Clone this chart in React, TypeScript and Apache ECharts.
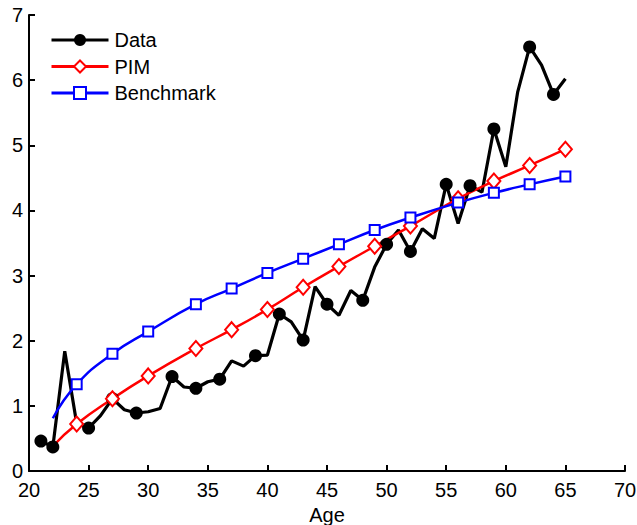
import React, { useEffect, useRef } from "react";
import * as echarts from "echarts";

const dataAges = [21,22,23,24,25,26,27,28,29,30,31,32,33,34,35,36,37,38,39,40,41,42,43,44,45,46,47,48,49,50,51,52,53,54,55,56,57,58,59,60,61,62,63,64,65];
const dataValues = [0.46,0.37,1.84,0.73,0.66,0.85,1.11,0.94,0.89,0.91,0.96,1.45,1.29,1.27,1.37,1.41,1.69,1.61,1.77,1.78,2.41,2.29,2.01,2.83,2.56,2.39,2.77,2.62,3.13,3.48,3.70,3.37,3.72,3.57,4.40,3.80,4.38,4.28,5.25,4.67,5.82,6.51,6.23,5.78,6.02];
const dataMarkerAges = [21,22,25,27,29,32,34,36,39,41,43,45,48,50,52,55,57,59,62,64];

const modelAges = [22,24,27,30,34,37,40,43,46,49,52,56,59,62,65];
const pimValues = [0.38,0.72,1.11,1.46,1.88,2.17,2.48,2.82,3.14,3.45,3.76,4.18,4.45,4.69,4.94];
const benchValues = [0.81,1.33,1.80,2.14,2.56,2.80,3.04,3.26,3.48,3.70,3.89,4.12,4.27,4.40,4.52];
const modelMarkerAges = [24,27,30,34,37,40,43,46,49,52,56,59,62,65];

const xTicks = { min: 20, max: 70, interval: 5 };
const yTicks = { min: 0, max: 7, interval: 1 };

const FONT = "Liberation Sans, Arial, Helvetica, sans-serif";

export default function App() {
  const ref = useRef<HTMLDivElement>(null);
  useEffect(() => {
    if (!ref.current) return;
    const chart = echarts.init(ref.current, undefined, { renderer: "svg" });
    const mk = (ages: number[], vals: number[], markers: number[]) =>
      ages.map((a, i) => (markers.includes(a) ? [a, vals[i]] : { value: [a, vals[i]], symbol: "none" }));
    const axisCommon = {
      type: "value" as const,
      axisLine: { show: true, onZero: false, lineStyle: { color: "#000", width: 2 } },
      axisTick: { show: true, inside: true, length: 6, lineStyle: { color: "#000", width: 2 } },
      splitLine: { show: false },
      axisLabel: { color: "#000", fontSize: 20, fontFamily: FONT },
    };
    chart.setOption({
      animation: false,
      backgroundColor: "#fff",
      grid: { left: 29, top: 15, width: 596, height: 456, containLabel: false, outerBoundsMode: "none" },
      xAxis: {
        ...axisCommon,
        ...xTicks,
        name: "Age",
        nameLocation: "middle",
        nameGap: 31,
        nameTextStyle: { color: "#000", fontSize: 20, fontFamily: FONT },
        axisLabel: { ...axisCommon.axisLabel, margin: 9 },
      },
      yAxis: {
        ...axisCommon,
        ...yTicks,
        axisLabel: { ...axisCommon.axisLabel, margin: 6 },
      },
      legend: {
        left: 50,
        top: 30,
        padding: 0,
        orient: "vertical",
        itemWidth: 57,
        itemHeight: 15,
        itemGap: 6.5,
        lineStyle: { width: 3 },
        textStyle: { color: "#000", fontSize: 20, fontFamily: FONT, padding: [0, 0, 0, 1] },
        data: ["Data", "PIM", "Benchmark"],
      },
      series: [
        {
          name: "Data",
          type: "line",
          data: mk(dataAges, dataValues, dataMarkerAges),
          symbol: "circle",
          symbolSize: 13,
          lineStyle: { color: "#000", width: 3.2 },
          itemStyle: { color: "#000" },
        },
        {
          name: "PIM",
          type: "line",
          smooth: true,
          data: mk(modelAges, pimValues, modelMarkerAges),
          symbol: "diamond",
          symbolSize: [13, 15],
          lineStyle: { color: "#ff0000", width: 2.5 },
          itemStyle: { color: "#fff", borderColor: "#ff0000", borderWidth: 2 },
        },
        {
          name: "Benchmark",
          type: "line",
          smooth: true,
          data: mk(modelAges, benchValues, modelMarkerAges),
          symbol: "rect",
          symbolSize: 10,
          lineStyle: { color: "#0000ff", width: 2.5 },
          itemStyle: { color: "#fff", borderColor: "#0000ff", borderWidth: 2 },
        },
      ],
    });
    return () => chart.dispose();
  }, []);
  return <div ref={ref} style={{ position: "fixed", left: 0, top: 0, width: 637, height: 525 }} />;
}
